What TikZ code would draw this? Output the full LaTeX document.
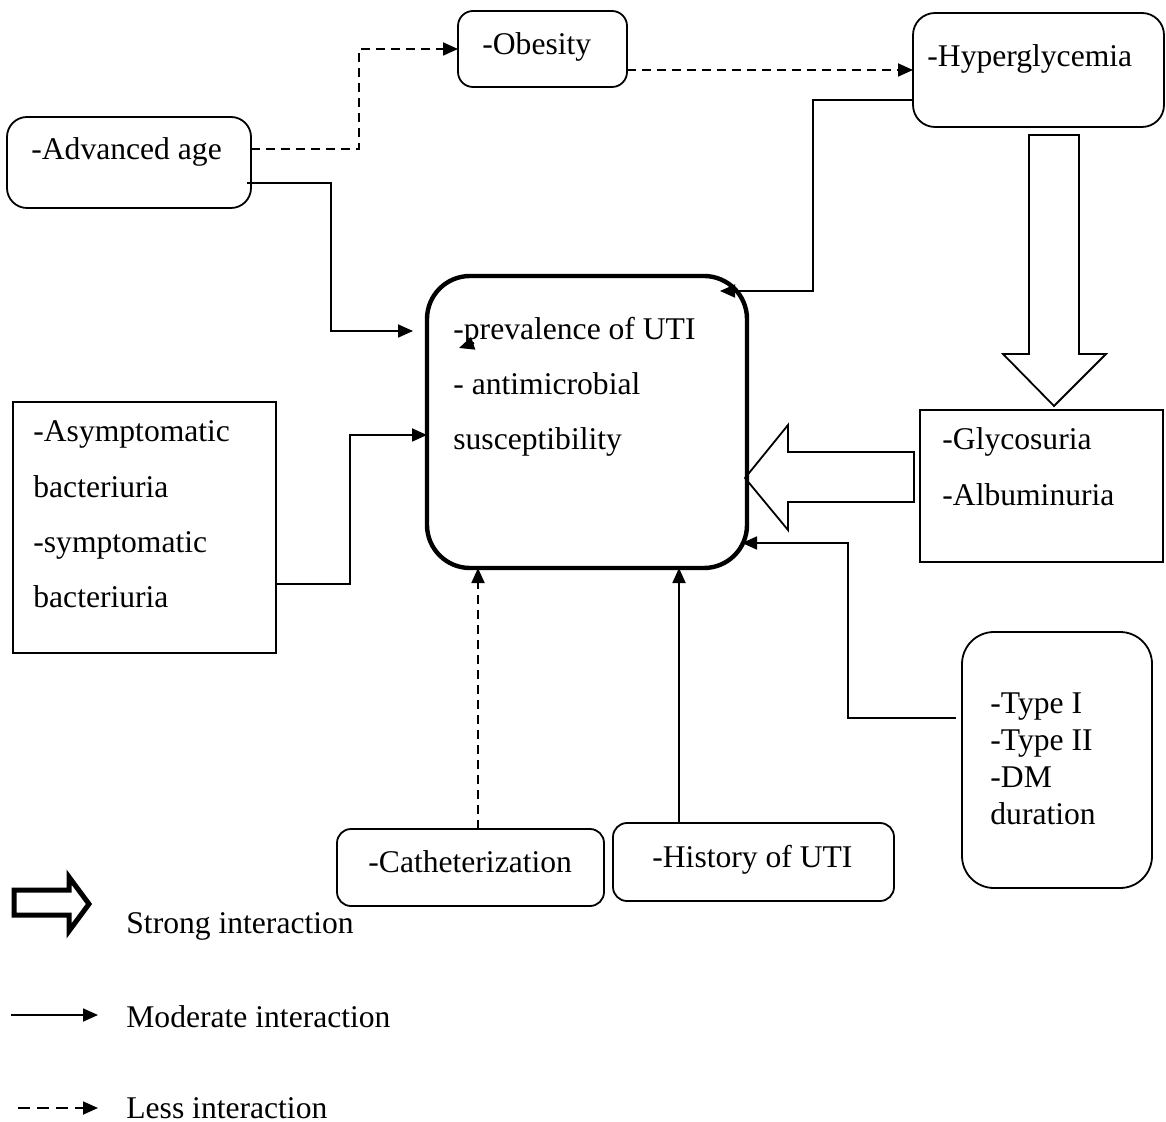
\documentclass[tikz,border=0pt]{standalone}
\usepackage{fontspec}
\setmainfont{Liberation Serif}
\usetikzlibrary{arrows.meta, fit}

\tikzset{
  box/.style={draw, line width=0.9pt, inner sep=0pt, outer sep=0pt},
  rbox/.style={box, rounded corners=#1},
  txt/.style={anchor=base west, inner sep=0pt, font=\fontsize{15.8}{19}\selectfont},
  mod/.style={line width=0.9pt, -{Triangle[length=7.5pt, width=6.5pt]}},
  less/.style={mod, dash pattern=on 4.5pt off 3pt},
  fat/.style={draw, line width=0.9pt, line join=miter},
}

\begin{document}
\begin{tikzpicture}[x=0.5pt, y=-0.5pt]
  \useasboundingbox (0,0) rectangle (1166,1122);

  % boxes
  \node (age)  [rbox=10pt, fit={(7,117) (251,208)}] {};
  \node (obe)  [rbox=7.5pt, fit={(458,11) (627,87)}] {};
  \node (hyp)  [rbox=11pt, fit={(913,13) (1164,127)}] {};
  \node (uti)  [rbox=21.5pt, line width=2.2pt, fit={(427,276) (747,568)}] {};
  \node (asym) [box, fit={(13,402) (276,653)}] {};
  \node (glyc) [box, fit={(920,410) (1163,562)}] {};
  \node (type) [rbox=16pt, fit={(962,632) (1152,888)}] {};
  \node (cath) [rbox=7pt, fit={(337,829) (604,906)}] {};
  \node (hist) [rbox=7pt, fit={(613,823) (894,901)}] {};

  % texts
  \node (agetxt)  [txt] at (31,160) {-Advanced age};
  \node (obetxt)  [txt] at (482,55) {-Obesity};
  \node (hyptxt)  [txt] at (927,67) {-Hyperglycemia};
  \node (cathtxt) [txt] at (368,872) {-Catheterization};
  \node (histtxt) [txt] at (652,867) {-History of UTI};
  \foreach \t [count=\i from 0] in {-prevalence of UTI, - antimicrobial, susceptibility}
    \node (utitxt\i) [txt] at (453,340+55*\i) {\t};
  \foreach \t [count=\i from 0] in {-Asymptomatic, bacteriuria, -symptomatic, bacteriuria}
    \node (asymtxt\i) [txt] at (33,442+55.3*\i) {\t};
  \foreach \t [count=\i from 0] in {-Glycosuria, -Albuminuria}
    \node (glyctxt\i) [txt] at (942,450+55*\i) {\t};
  \foreach \t [count=\i from 0] in {-Type I, -Type II, -DM, duration}
    \node (typetxt\i) [txt] at (990,713+37.3*\i) {\t};

  % connector ends
  \coordinate (age-o) at (251,149);
  \coordinate (age-c) at (247,183);
  \coordinate (uti-a) at (413,331);
  \coordinate (hyp-o) at (912,100);
  \coordinate (uti-ne) at (720,291);
  \coordinate (type-o) at (956,718);
  \coordinate (uti-se) at (742,543);

  \draw[less] (age-o) -- ++(108,0) |- (obe.west);
  \draw[less] (obe.east |- hyp.west) -- (hyp.west);
  \draw[mod] (age-c) -- ++(84,0) |- (uti-a);
  \draw[mod] (hyp-o) -- ++(-99,0) |- (uti-ne);
  \draw[mod] (asym.east |- 0,584) -- ++(74,0) |- (uti.west |- 0,435);
  \draw[mod] (type-o) -- ++(-108,0) |- (uti-se);
  \draw[less] (cath.north -| 478,0) -- (478,0 |- uti.south);
  \draw[mod] (hist.north -| 679,0) -- (679,0 |- uti.south);
  \draw[mod] (474,343) -- (459,348);

  % strong interactions
  \draw[fat] (1029,135) -- (1079,135) -- (1079,354) -- (1106,354) -- (1054,406)
    -- (1003,354) -- (1029,354) -- cycle;
  \draw[fat] (914,452) -- (788,452) -- (788,425) -- (745,478) -- (788,530)
    -- (788,502) -- (914,502) -- cycle;

  % legend
  \draw[fat, line width=2.5pt] (14,890) -- (69,890) -- (69,877) -- (89,904)
    -- (69,931) -- (69,915) -- (14,915) -- cycle;
  \draw[mod] (11,1015) -- (98,1015);
  \draw[less, dash pattern=on 6pt off 3.5pt] (18,1108) -- (98,1108);
  \node (strong) [txt] at (126,933) {Strong interaction};
  \node (moder)  [txt] at (126,1027) {Moderate interaction};
  \node (weak)   [txt] at (126,1118) {Less interaction};
\end{tikzpicture}
\end{document}
